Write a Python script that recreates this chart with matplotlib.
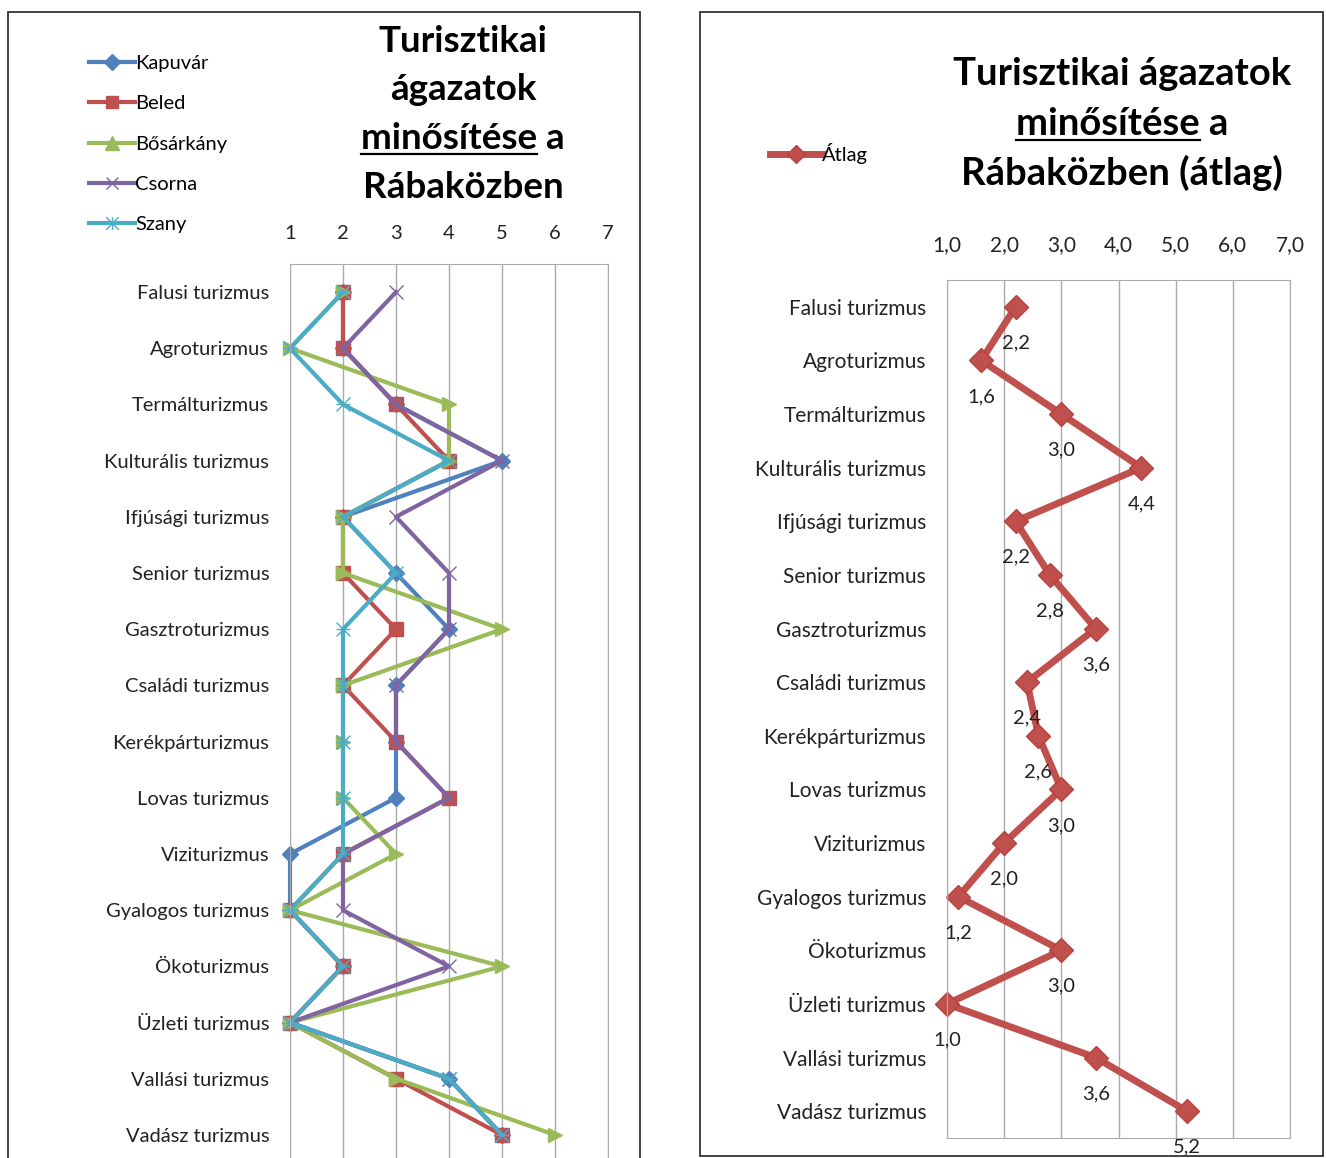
import matplotlib
matplotlib.use("Agg")
import matplotlib.pyplot as plt
from matplotlib.lines import Line2D
from matplotlib.patches import Rectangle
from matplotlib.path import Path

plt.rcParams["font.family"] = ["Lato", "DejaVu Sans"]

# ---- data ----
categories = ["Falusi turizmus", "Agroturizmus", "Termálturizmus", "Kulturális turizmus",
              "Ifjúsági turizmus", "Senior turizmus", "Gasztroturizmus", "Családi turizmus",
              "Kerékpárturizmus", "Lovas turizmus", "Viziturizmus", "Gyalogos turizmus",
              "Ökoturizmus", "Üzleti turizmus", "Vallási turizmus", "Vadász turizmus"]
kapuvar = [2, 2, 3, 5, 2, 3, 4, 3, 3, 3, 1, 1, 2, 1, 4, 5]
beled = [2, 2, 3, 4, 2, 2, 3, 2, 3, 4, 2, 1, 2, 1, 3, 5]
bosarkany = [2, 1, 4, 4, 2, 2, 5, 2, 2, 2, 3, 1, 5, 1, 3, 6]
csorna = [3, 2, 3, 5, 3, 4, 4, 3, 3, 4, 2, 2, 4, 1, 4, 5]
szany = [2, 1, 2, 4, 2, 3, 2, 2, 2, 2, 2, 1, 2, 1, 4, 5]
atlag = [2.2, 1.6, 3.0, 4.4, 2.2, 2.8, 3.6, 2.4, 2.6, 3.0, 2.0, 1.2, 3.0, 1.0, 3.6, 5.2]
left_ticks = [1, 2, 3, 4, 5, 6, 7]
right_ticks = [1.0, 2.0, 3.0, 4.0, 5.0, 6.0, 7.0]

W, H = 1326, 1158
fig = plt.figure(figsize=(W / 100, H / 100), dpi=100)


def fig_rect(x0, y0, x1, y1):
    # pixel box (top-left origin) -> figure fraction rect
    return [x0 / W, (H - y1) / H, (x1 - x0) / W, (y1 - y0) / H]


# asterisk markers (Excel "*" marker), rotated one for the plot, upright for legend
star_rot = Path([(-1, -1), (1, 1), (-1, 1), (1, -1), (-1, 0), (1, 0)],
                [Path.MOVETO, Path.LINETO] * 3)
star_up = Path([(-1, -1), (1, 1), (-1, 1), (1, -1), (0, -1), (0, 1)],
               [Path.MOVETO, Path.LINETO] * 3)

grid_c = "#AAAAAA"
FS = 14.5

# chart borders
fig.add_artist(Rectangle((8 / W, -0.05), 632 / W, (H - 12) / H + 0.05,
                         transform=fig.transFigure, fill=False, ec="#222222", lw=1.2))
fig.add_artist(Rectangle((700 / W, (H - 1156) / H), 623 / W, 1144 / H,
                         transform=fig.transFigure, fill=False, ec="#222222", lw=1.2))

# ---------------- left chart ----------------
ax1 = fig.add_axes(fig_rect(290, 264, 608, 1163))
ypos = list(range(len(categories)))
series = [
    ("Kapuvár", kapuvar, "#4F81BD", "D", 8.5, 1),
    ("Beled", beled, "#C0504D", "s", 10, 1),
    ("Bősárkány", bosarkany, "#9BBB59", ">", 10.5, 1),
    ("Csorna", csorna, "#8064A2", "x", 10, 1),
    ("Szany", szany, "#4BACC6", star_rot, 10, 1),
]
handles = []
for name, vals, col, mk, ms, mew in series:
    ax1.plot(vals, ypos, color=col, lw=3, marker=mk, ms=ms, mew=mew, mfc=col, mec=col,
             clip_on=False)
    lmk = {">": "^"}.get(mk, mk) if not isinstance(mk, Path) else star_up
    handles.append(Line2D([], [], color=col, lw=3, marker=lmk, ms=ms * 0.9, mfc=col, mec=col,
                          mew=1, label=name))

ax1.set_xlim(1, 7)
ax1.set_ylim(len(categories) - 0.5, -0.5)
ax1.set_xticks(left_ticks)
ax1.set_xticklabels([str(t) for t in left_ticks])
ax1.set_yticks(ypos)
ax1.set_yticklabels(categories)
ax1.xaxis.tick_top()
ax1.tick_params(axis="both", length=0, labelsize=FS, colors="#222222")
ax1.tick_params(axis="x", pad=16)
ax1.tick_params(axis="y", pad=15)
ax1.grid(axis="x", color=grid_c, lw=1)
ax1.set_axisbelow(True)
for s in ax1.spines.values():
    s.set_color(grid_c)

fig.legend(handles=handles, loc="upper left", bbox_to_anchor=(81 / W, 1 - 47 / H),
           frameon=False, fontsize=FS, handlelength=2.3, handletextpad=0.0,
           labelspacing=1.15, borderaxespad=0)

# ---------------- right chart ----------------
ax2 = fig.add_axes(fig_rect(947, 280, 1290, 1138))
ax2.plot(atlag, ypos, color="#C0504D", lw=5, marker="D", ms=12, mfc="#C0504D", mec="#B8413E",
         label="Átlag", clip_on=False)
for v, y in zip(atlag, ypos):
    ax2.annotate(f"{v:.1f}".replace(".", ","), (v, y), xytext=(0, -36),
                 textcoords="offset pixels", ha="center", va="center", fontsize=FS,
                 color="#222222")
ax2.set_xlim(1, 7)
ax2.set_ylim(len(categories) - 0.5, -0.5)
ax2.set_xticks(right_ticks)
ax2.set_xticklabels([f"{t:.1f}".replace(".", ",") for t in right_ticks])
ax2.set_yticks(ypos)
ax2.set_yticklabels(categories)
ax2.xaxis.tick_top()
ax2.tick_params(axis="both", length=0, labelsize=FS + 0.5, colors="#222222")
ax2.tick_params(axis="x", pad=18)
ax2.tick_params(axis="y", pad=15)
ax2.grid(axis="x", color=grid_c, lw=1)
ax2.set_axisbelow(True)
for s in ax2.spines.values():
    s.set_color(grid_c)

fig.legend(handles=ax2.get_lines(), loc="center left", bbox_to_anchor=(762 / W, 1 - 154 / H),
           frameon=False, fontsize=FS, handlelength=2.6, handletextpad=0.0, borderaxespad=0,
           markerscale=0.75)

# ---------------- titles with underline ----------------
renderer = fig.canvas.get_renderer()


def title_lines(cx, baselines, lines, size, underline_idx, word):
    for i, (b, line) in enumerate(zip(baselines, lines)):
        t = fig.text(cx / W, 1 - b / H, line, ha="center", va="baseline",
                     fontsize=size, fontweight="bold", color="#000000")
        if i == underline_idx:
            bb = t.get_window_extent(renderer)
            tmp = fig.text(0, 0, word, fontsize=size, fontweight="bold")
            wb = tmp.get_window_extent(renderer)
            tmp.remove()
            y_ul = 1 - (b + 5) / H
            fig.add_artist(Line2D([bb.x0 / W, (bb.x0 + wb.width) / W], [y_ul, y_ul],
                                  transform=fig.transFigure, color="#000000", lw=1.6))


title_lines(463, [52, 100, 149, 198],
            ["Turisztikai", "ágazatok", "minősítése a", "Rábaközben"], 26.5, 2, "minősítése")
title_lines(1122, [85, 135, 185],
            ["Turisztikai ágazatok", "minősítése a", "Rábaközben (átlag)"], 27.5, 1, "minősítése")

fig.savefig("out.png", dpi=100)
